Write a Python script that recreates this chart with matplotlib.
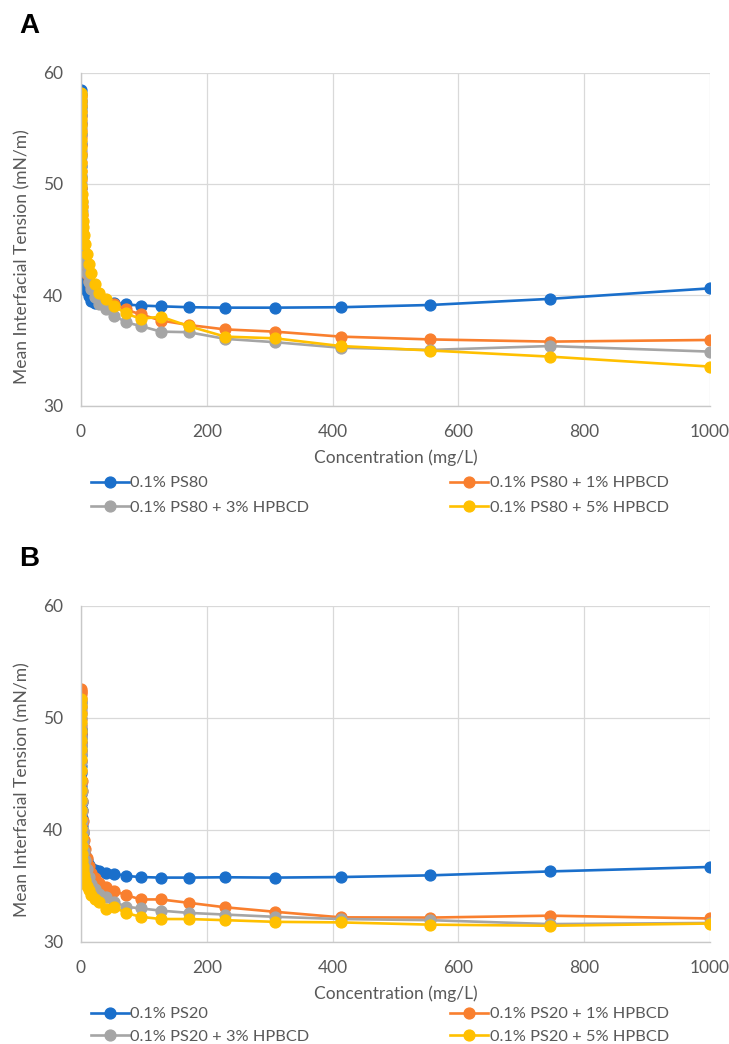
import matplotlib.pyplot as plt

plt.rcParams['font.family'] = ['Lato', 'DejaVu Sans']

# concentration series (mg/L), same for all curves
conc = [1000, 745, 555, 413, 308, 229, 171, 127, 95, 71, 53, 39, 29, 22, 16, 12,
        8.9, 6.6, 4.9, 3.7, 2.7, 2.0, 1.5, 1.1, 0.84, 0.62, 0.47, 0.35, 0.26, 0.19,
        0.14, 0.11, 0.08, 0.06, 0.045, 0.033, 0.025, 0.018, 0.014, 0.01]

# panel A - PS80
ps80 = [40.6, 39.65, 39.1, 38.9, 38.86, 38.86, 38.9, 38.98, 39.05, 39.15, 39.3, 39.4,
        39.3, 39.3, 39.5, 39.9, 40.4, 40.9, 41.5, 42.1, 42.8, 43.5, 44.3, 45.1, 45.9,
        46.8, 47.7, 48.6, 49.6, 50.6, 51.6, 52.6, 53.6, 54.5, 55.4, 56.2, 56.9, 57.5,
        58.1, 58.5]
ps80_1 = [35.95, 35.8, 36.0, 36.25, 36.7, 36.9, 37.3, 37.7, 38.25, 38.7, 39.2, 39.5,
          39.9, 40.3, 40.8, 41.3, 41.9, 42.6, 43.3, 44.0, 44.8, 45.6, 46.4, 47.2, 48.0,
          48.8, 49.6, 50.4, 51.2, 52.0, 52.8, 53.5, 54.2, 54.9, 55.5, 56.1, 56.6, 57.1,
          57.5, 57.9]
ps80_3 = [34.9, 35.4, 35.05, 35.25, 35.75, 36.05, 36.65, 36.7, 37.2, 37.55, 38.15, 38.7,
          39.2, 39.8, 40.5, 41.2, 42.0, 42.8, 43.6, 44.4, 45.2, 46.0, 46.8, 47.6, 48.4,
          49.2, 50.0, 50.8, 51.6, 52.4, 53.1, 53.8, 54.5, 55.1, 55.7, 56.2, 56.7, 57.1,
          57.4, 57.7]
ps80_5 = [33.55, 34.45, 35.0, 35.4, 36.1, 36.25, 37.2, 38.05, 37.85, 38.35, 39.0, 39.6,
          40.2, 41.0, 42.0, 42.8, 43.7, 44.6, 45.4, 46.1, 46.7, 47.3, 47.9, 48.5, 49.1,
          49.8, 50.5, 51.2, 51.9, 52.6, 53.3, 54.0, 54.7, 55.3, 55.9, 56.5, 57.0, 57.5,
          57.9, 58.2]

# panel B - PS20
ps20 = [36.7, 36.3, 35.95, 35.8, 35.75, 35.78, 35.75, 35.75, 35.8, 35.9, 36.1, 36.2,
        36.3, 36.45, 36.6, 36.9, 37.3, 37.8, 38.4, 39.0, 39.7, 40.4, 41.1, 41.8, 42.5,
        43.2, 43.9, 44.5, 45.1, 45.7, 46.2, 46.7, 47.1, 47.5, 47.9, 48.2, 48.5, 48.7,
        48.9, 49.0]
ps20_1 = [32.1, 32.35, 32.18, 32.2, 32.7, 33.1, 33.5, 33.8, 33.8, 34.2, 34.55, 34.95,
          35.3, 35.7, 36.2, 36.8, 37.5, 38.3, 39.1, 39.9, 40.8, 41.7, 42.6, 43.5, 44.4,
          45.3, 46.2, 47.0, 47.8, 48.6, 49.3, 49.9, 50.5, 51.0, 51.4, 51.8, 52.1, 52.3,
          52.45, 52.55]
ps20_3 = [31.7, 31.6, 31.95, 32.05, 32.25, 32.45, 32.6, 32.8, 33.0, 33.15, 33.6, 34.0,
          34.3, 34.7, 35.2, 35.8, 36.5, 37.3, 38.1, 39.0, 39.9, 40.8, 41.7, 42.6, 43.5,
          44.4, 45.3, 46.1, 46.9, 47.6, 48.3, 48.9, 49.5, 50.0, 50.4, 50.8, 51.1, 51.3,
          51.45, 51.6]
ps20_5 = [31.65, 31.45, 31.55, 31.75, 31.8, 31.95, 32.05, 32.05, 32.25, 32.6, 33.1, 32.95,
          33.6, 33.8, 34.2, 34.6, 35.0, 35.5, 36.0, 36.4, 36.8, 37.3, 37.9, 38.6, 39.4,
          40.2, 41.0, 41.8, 42.7, 43.6, 44.5, 45.4, 46.3, 47.2, 48.0, 48.8, 49.6, 50.4,
          51.1, 51.7]

labels_a = ['0.1% PS80', '0.1% PS80 + 1% HPBCD', '0.1% PS80 + 3% HPBCD', '0.1% PS80 + 5% HPBCD']
labels_b = ['0.1% PS20', '0.1% PS20 + 1% HPBCD', '0.1% PS20 + 3% HPBCD', '0.1% PS20 + 5% HPBCD']
colors = ['#1A6FCB', '#F97F2E', '#A5A5A5', '#FFC000']

W, H = 729, 1044
fig = plt.figure(figsize=(W / 100, H / 100), dpi=100)
txt = '#595959'


def panel(top_px, bottom_px, series, labels, letter, ylab_center, leg_off, leg_sp):
    ax = fig.add_axes([81 / W, 1 - bottom_px / H, 629 / W, (bottom_px - top_px) / H])
    lines = []
    for ys, lab, c in zip(series, labels, colors):
        ln, = ax.plot(conc, ys, color=c, lw=1.9, marker='o', ms=7.8, label=lab)
        lines.append(ln)
    ax.set_xlim(0, 1000)
    ax.set_ylim(30, 60)
    ax.set_xticks(range(0, 1001, 200))
    ax.set_yticks([30, 40, 50, 60])
    ax.grid(True, color='#D9D9D9', lw=0.9)
    ax.set_axisbelow(True)
    for s in ['top', 'right']:
        ax.spines[s].set_visible(False)
    for s in ['left', 'bottom']:
        ax.spines[s].set_color('#C8C8C8')
        ax.spines[s].set_linewidth(1.0)
    ax.tick_params(length=0, labelsize=12.5, labelcolor=txt)
    ax.tick_params(axis='y', pad=13)
    ax.tick_params(axis='x', pad=13)
    ax.set_xlabel('Concentration (mg/L)', fontsize=12.5, color=txt, labelpad=7)
    fig.text(22 / W, 1 - ylab_center / H, 'Mean Interfacial Tension (mN/m)', rotation=90,
             ha='center', va='center', fontsize=12.6, color=txt)
    fig.text(19 / W, 1 - (top_px - 47) / H, letter, fontsize=20, fontweight='bold',
             family='Liberation Sans', ha='left', va='center')
    # row-wise order like the original legend
    order = [0, 2, 1, 3]
    leg = ax.legend([lines[i] for i in order], [labels[i] for i in order],
                    loc='upper left', bbox_to_anchor=(91 / W, 1 - (bottom_px + leg_off) / H),
                    bbox_transform=fig.transFigure, ncol=2, frameon=False, fontsize=11.8,
                    handlelength=2.3, handletextpad=0.1, columnspacing=8.6,
                    labelspacing=leg_sp, borderpad=0, borderaxespad=0)
    for t in leg.get_texts():
        t.set_color(txt)
    return ax


panel(73, 406, [ps80, ps80_1, ps80_3, ps80_5], labels_a, 'A', 257, 70, 0.62)
panel(606, 942, [ps20, ps20_1, ps20_3, ps20_5], labels_b, 'B', 790, 65, 0.48)

fig.savefig('out.png', dpi=100)
